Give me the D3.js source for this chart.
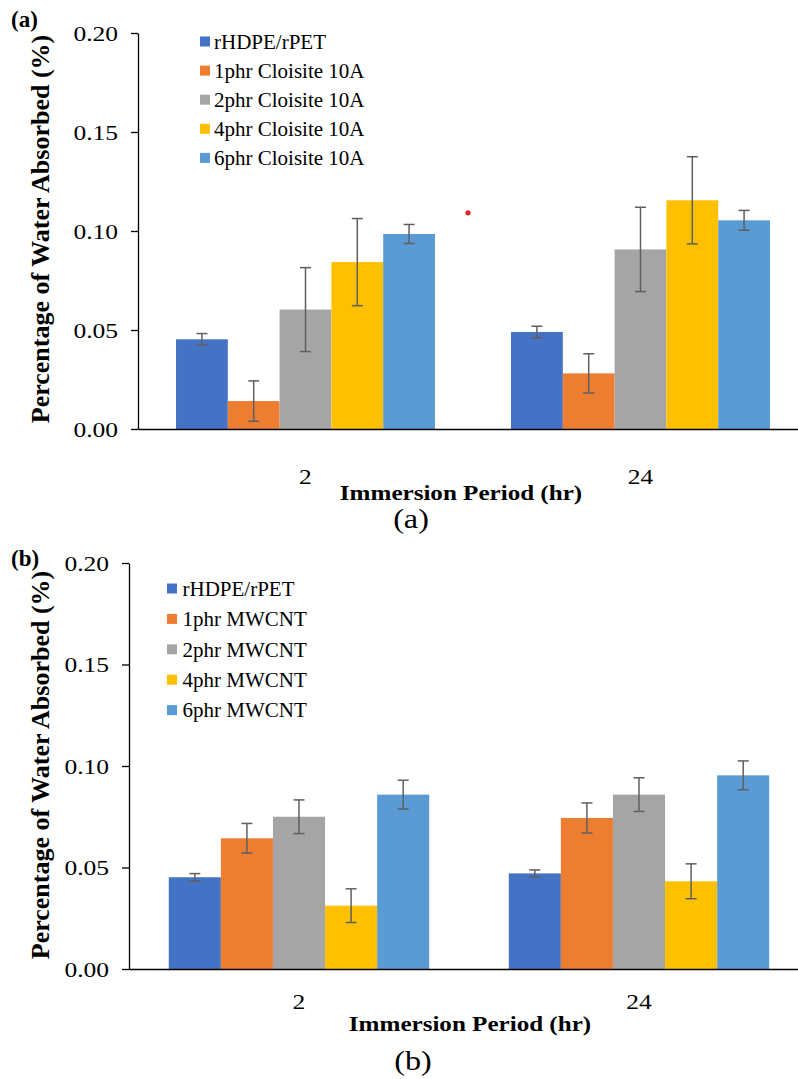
<!DOCTYPE html>
<html>
<head>
<meta charset="utf-8">
<script src="https://cdn.jsdelivr.net/npm/d3@7/dist/d3.min.js"></script>
<style>
  html, body { margin: 0; padding: 0; background: #fff; }
  svg { display: block; }
  text { font-family: "Liberation Serif", "Times New Roman", serif; fill: #000; }
</style>
</head>
<body>
<svg id="chart" width="798" height="1079"></svg>
<script>
// ---------- data ----------
const categories = ["2", "24"];
const seriesA = ["rHDPE/rPET", "1phr Cloisite 10A", "2phr Cloisite 10A", "4phr Cloisite 10A", "6phr Cloisite 10A"];
const seriesB = ["rHDPE/rPET", "1phr MWCNT", "2phr MWCNT", "4phr MWCNT", "6phr MWCNT"];
// values[series][category]
const valuesA = [
  [0.0453, 0.0490],
  [0.0141, 0.0281],
  [0.0603, 0.0907],
  [0.0843, 0.1155],
  [0.0985, 0.1054]
];
const errorsA = [
  [0.0029, 0.0029],
  [0.0102, 0.0099],
  [0.0212, 0.0213],
  [0.0220, 0.0220],
  [0.0048, 0.0050]
];
const valuesB = [
  [0.0452, 0.0471],
  [0.0644, 0.0744],
  [0.0750, 0.0859],
  [0.0312, 0.0432],
  [0.0859, 0.0954]
];
const errorsB = [
  [0.0018, 0.0017],
  [0.0073, 0.0074],
  [0.0083, 0.0083],
  [0.0083, 0.0086],
  [0.0071, 0.0071]
];
const yTicks = [0, 0.05, 0.10, 0.15, 0.20];
const colors = ["#4472C4", "#ED7D31", "#A5A5A5", "#FFC000", "#5B9BD5"];
const xTitle = "Immersion Period (hr)";
const yTitle = "Percentage of Water Absorbed (%)";

const svg = d3.select("#chart");

function drawPanel(cfg) {
  const g = svg.append("g");
  const x = d3.scaleBand().domain(categories).range([cfg.left, cfg.right])
    .paddingInner(cfg.pad).paddingOuter(cfg.pad / 2);
  const xs = d3.scaleBand().domain(d3.range(cfg.series.length)).range([0, x.bandwidth()]).padding(0);
  const y = d3.scaleLinear().domain([0, 0.2]).range([cfg.bottom, cfg.top]);

  // bars
  const cells = [];
  cfg.series.forEach((s, si) => categories.forEach((c, ci) => {
    cells.push({ si, c, v: cfg.values[si][ci], e: cfg.errors[si][ci] });
  }));
  g.selectAll("rect.bar").data(cells).join("rect")
    .attr("class", "bar")
    .attr("x", d => x(d.c) + xs(d.si))
    .attr("width", xs.bandwidth())
    .attr("y", d => y(d.v))
    .attr("height", d => y(0) - y(d.v))
    .attr("fill", d => colors[d.si]);

  // error bars
  const eb = g.selectAll("g.err").data(cells).join("g").attr("class", "err")
    .attr("stroke", "#5f5f5f").attr("stroke-width", 1.5);
  const cx = d => x(d.c) + xs(d.si) + xs.bandwidth() / 2;
  eb.append("line").attr("x1", cx).attr("x2", cx)
    .attr("y1", d => y(d.v - d.e)).attr("y2", d => y(d.v + d.e));
  eb.append("line").attr("x1", d => cx(d) - 5.5).attr("x2", d => cx(d) + 5.5)
    .attr("y1", d => y(d.v + d.e)).attr("y2", d => y(d.v + d.e));
  eb.append("line").attr("x1", d => cx(d) - 5.5).attr("x2", d => cx(d) + 5.5)
    .attr("y1", d => y(d.v - d.e)).attr("y2", d => y(d.v - d.e));

  // y axis
  const sx = 1.16;
  const yAxis = d3.axisLeft(y).tickValues(yTicks).tickFormat(d3.format(".2f"))
    .tickSize(7).tickPadding(13).tickSizeOuter(0);
  const ya = g.append("g").attr("transform", `translate(${cfg.left},0)`).call(yAxis);
  ya.select(".domain").attr("stroke", "#000").attr("stroke-width", 1.3);
  ya.selectAll(".tick line").attr("stroke", "#000").attr("stroke-width", 1.3);
  ya.selectAll(".tick text")
    .attr("font-size", 22)
    .attr("font-family", "Liberation Serif, serif")
    .attr("fill", "#000")
    .attr("x", -20 / sx)
    .attr("transform", `scale(${sx},1)`);

  // x axis
  const xAxis = d3.axisBottom(x).tickSize(0).tickPadding(0);
  const xa = g.append("g").attr("transform", `translate(0,${cfg.bottom})`).call(xAxis);
  xa.select(".domain").attr("stroke", "#000").attr("stroke-width", 1.3);
  xa.selectAll(".tick text")
    .attr("font-size", 22)
    .attr("font-family", "Liberation Serif, serif")
    .attr("fill", "#000")
    .attr("dy", null)
    .attr("y", cfg.catBaseline - cfg.bottom)
    .attr("transform", `scale(${sx},1)`)
    .each(function() {
      // keep centre position after horizontal scaling
      const p = d3.select(this.parentNode).attr("transform");
      const tx = +p.match(/translate\(([-\d.]+)/)[1];
      d3.select(this.parentNode).attr("transform", `translate(${tx},0)`);
    });

  // axis titles
  g.append("text")
    .attr("transform", `translate(${cfg.xTitleX},${cfg.xTitleY}) scale(1.14,1)`)
    .attr("text-anchor", "middle")
    .attr("font-size", 22).attr("font-weight", "bold")
    .text(xTitle);
  g.append("text")
    .attr("transform", `translate(${cfg.yTitleX},${cfg.yTitleY}) rotate(-90)`)
    .attr("text-anchor", "middle")
    .attr("dy", "0.35em")
    .attr("font-size", 26).attr("font-weight", "bold")
    .text(yTitle);

  // legend
  const lg = g.selectAll("g.leg").data(cfg.series).join("g").attr("class", "leg")
    .attr("transform", (d, i) => `translate(${cfg.legX},${cfg.legY + i * cfg.legStep})`);
  lg.append("rect").attr("x", 0).attr("y", -5).attr("width", 10).attr("height", 10)
    .attr("fill", (d, i) => colors[i]);
  lg.append("text").attr("x", cfg.legTextDx).attr("dy", "0.35em")
    .attr("font-size", 21).text(d => d);

  // panel tag
  g.append("text").attr("x", cfg.tagX).attr("y", cfg.tagY)
    .attr("font-size", 23).attr("font-weight", "bold").text(cfg.tag);

  // caption
  g.append("text")
    .attr("transform", `translate(${cfg.capX},${cfg.capY}) scale(1.15,1)`)
    .attr("text-anchor", "middle").attr("font-size", 28).text(cfg.tag);

  return { x, y, xs };
}

const pa = drawPanel({
  series: seriesA, values: valuesA, errors: errorsA,
  left: 138, right: 808, top: 33, bottom: 429, pad: 0.227,
  catBaseline: 484, xTitleX: 461, xTitleY: 500,
  yTitleX: 40, yTitleY: 229,
  legX: 200, legY: 41.5, legStep: 29.1, legTextDx: 14,
  tag: "(a)", tagX: 11, tagY: 27, capX: 411, capY: 528
});

// stray red dot present in the original figure
svg.append("circle")
  .attr("cx", (pa.x(categories[0]) + pa.x.bandwidth() + pa.x(categories[1])) / 2 - 5)
  .attr("cy", pa.y(0.1092))
  .attr("r", 2.6).attr("fill", "#e8202a");

drawPanel({
  series: seriesB, values: valuesB, errors: errorsB,
  left: 129, right: 809, top: 563, bottom: 969, pad: 0.234,
  catBaseline: 1009, xTitleX: 470, xTitleY: 1031,
  yTitleX: 40, yTitleY: 765,
  legX: 167, legY: 588.5, legStep: 30.4, legTextDx: 15.5,
  tag: "(b)", tagX: 11, tagY: 566, capX: 413, capY: 1070
});
</script>
</body>
</html>
